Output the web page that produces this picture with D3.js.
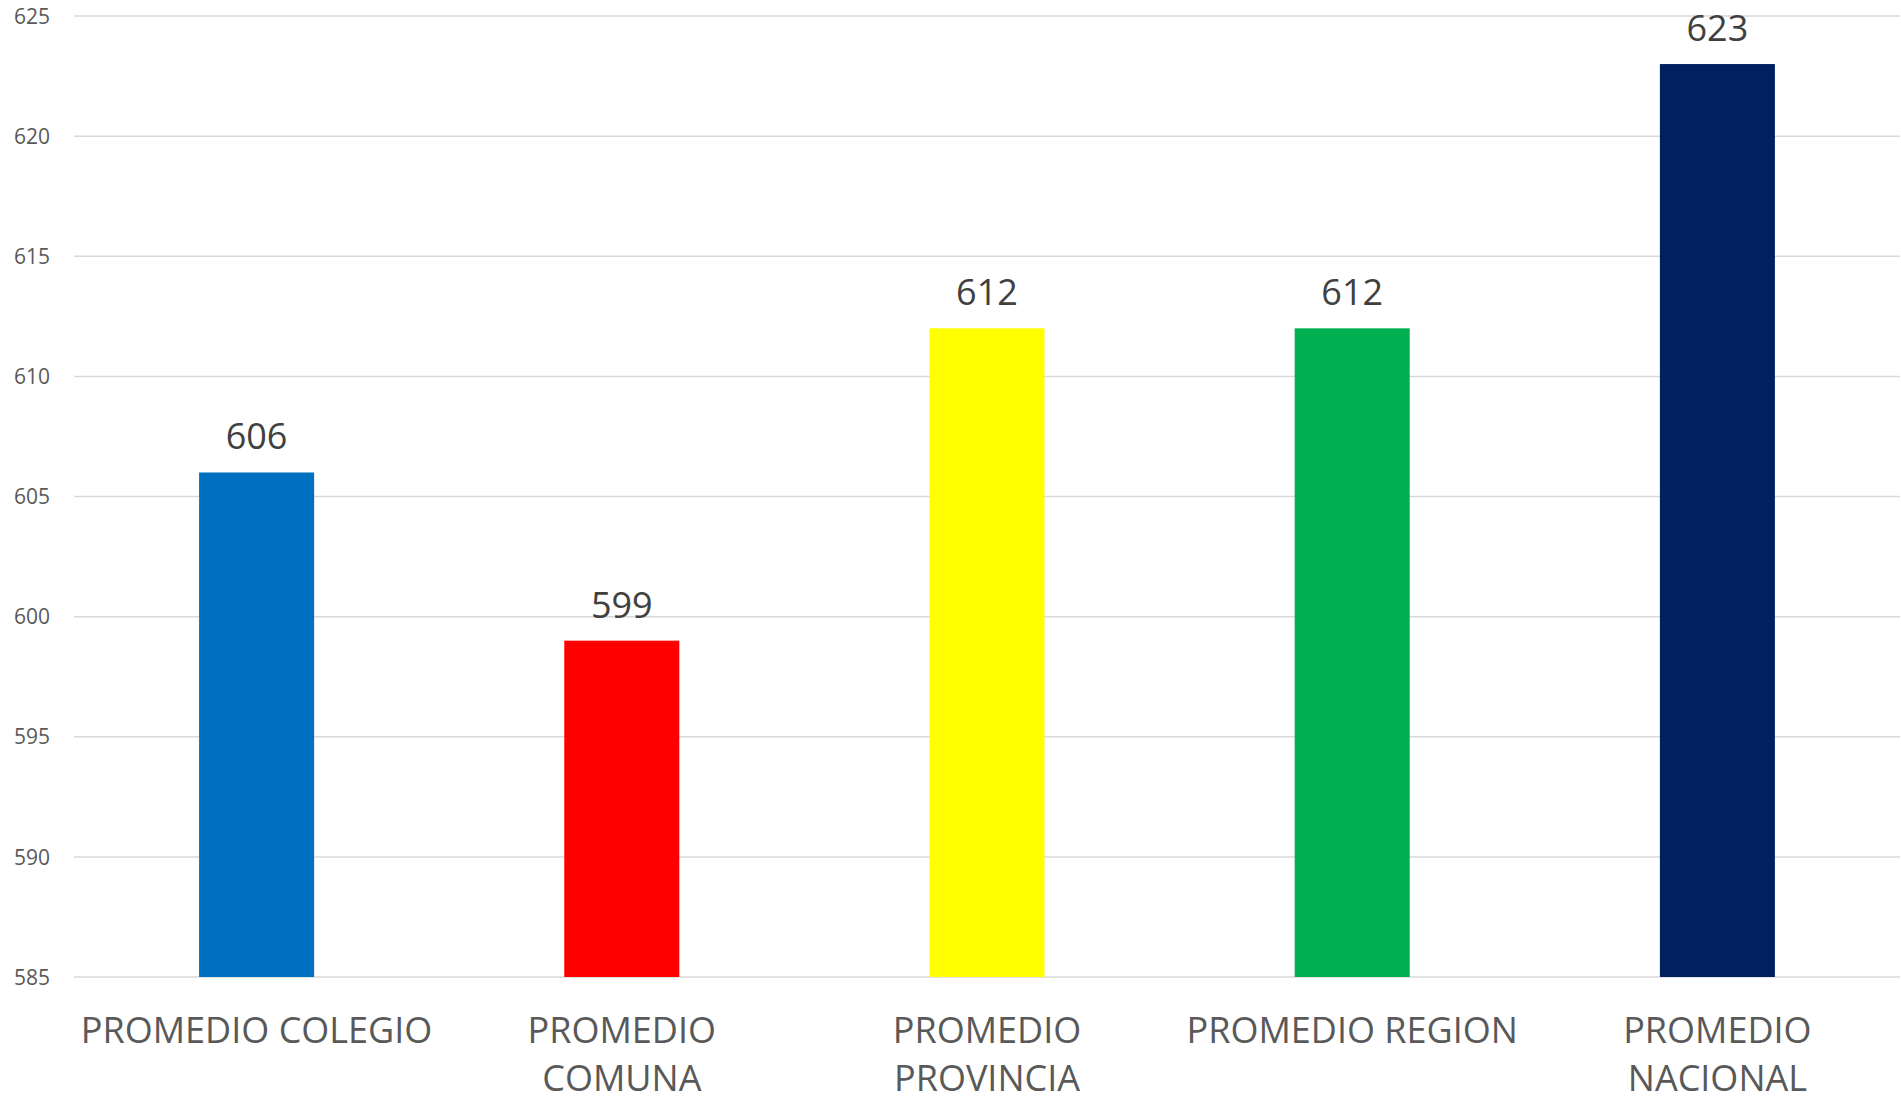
<!DOCTYPE html>
<html><head><meta charset="utf-8">
<script src="https://cdn.jsdelivr.net/npm/d3@7"></script>
<style>html,body{margin:0;padding:0;background:#fff;}svg{display:block;font-family:"Open Sans",sans-serif;}</style>
</head><body>
<svg id="c" width="1901" height="1102"></svg>
<script>
const categories = ["PROMEDIO COLEGIO","PROMEDIO COMUNA","PROMEDIO PROVINCIA","PROMEDIO REGION","PROMEDIO NACIONAL"];
const categoryLines = [["PROMEDIO COLEGIO"],["PROMEDIO","COMUNA"],["PROMEDIO","PROVINCIA"],["PROMEDIO REGION"],["PROMEDIO","NACIONAL"]];
const values = [606, 599, 612, 612, 623];
const colors = ["#0070C0","#FF0000","#FFFF00","#00B050","#002060"];
const yTicks = [585,590,595,600,605,610,615,620,625];

const svg = d3.select("#c");
const mLeft = 74, mRight = 1900, mTop = 16, mBottom = 977;
const x = d3.scaleBand().domain(categories).range([mLeft, mRight]).paddingInner(0.685).paddingOuter(0.3425);
const y = d3.scaleLinear().domain([585, 625]).range([mBottom, mTop]);

// gridlines
svg.append("g").selectAll("line").data(yTicks).join("line")
  .attr("x1", mLeft).attr("x2", mRight)
  .attr("y1", d => y(d)).attr("y2", d => y(d))
  .attr("stroke", "#d9d9d9").attr("stroke-width", 1.5);

// y axis labels
const yAxis = d3.axisLeft(y).tickValues(yTicks).tickSize(0).tickPadding(0);
const ga = svg.append("g").attr("transform", `translate(50,0)`).call(yAxis);
ga.select(".domain").remove();
ga.selectAll("text").attr("font-size", 21).attr("fill", "#595959").attr("font-family", "Open Sans, sans-serif").attr("dy", "0.34em");

// bars
svg.append("g").selectAll("rect").data(values).join("rect")
  .attr("x", (d,i) => x(categories[i]))
  .attr("width", x.bandwidth())
  .attr("y", d => y(d))
  .attr("height", d => y(585) - y(d))
  .attr("fill", (d,i) => colors[i]);

// data labels
svg.append("g").selectAll("text").data(values).join("text")
  .attr("x", (d,i) => x(categories[i]) + x.bandwidth()/2)
  .attr("y", d => y(d) - 23)
  .attr("text-anchor", "middle")
  .attr("font-size", 36).attr("fill", "#404040")
  .text(d => d);

// category labels
const xAxis = d3.axisBottom(x).tickSize(0).tickPadding(0);
const gx = svg.append("g").attr("transform", `translate(0,${mBottom})`).call(xAxis);
gx.select(".domain").remove();
gx.selectAll("text").attr("font-size", 36).attr("fill", "#595959")
  .attr("font-family", "Open Sans, sans-serif").attr("dy", null).attr("y", 0)
  .each(function(d) {
    const t = d3.select(this);
    const lines = categoryLines[categories.indexOf(d)];
    t.text(null);
    lines.forEach((ln, i) => {
      t.append("tspan").attr("x", 0).attr("y", 66 + i * 48).text(ln);
    });
  });
</script>
</body></html>
